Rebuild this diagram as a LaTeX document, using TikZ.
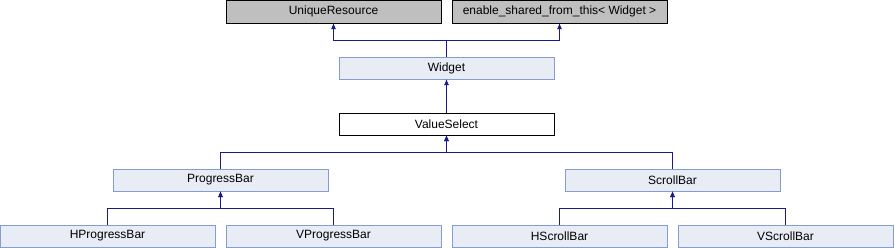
\documentclass[tikz,border=0pt]{standalone}
\usepackage{fontspec}
\setmainfont{Liberation Sans}
\usetikzlibrary{positioning, arrows.meta}
\definecolor{linkblue}{RGB}{25,25,140}
\definecolor{basegray}{RGB}{191,191,191}
\definecolor{classfill}{RGB}{232,236,245}
\definecolor{classdraw}{RGB}{132,156,206}

\begin{document}
\begin{tikzpicture}[
            x=1pt, y=-1pt,
            cls/.style={rectangle, draw, minimum width=215pt, minimum height=22pt, inner sep=0pt, font=\fontsize{12}{14}\selectfont},
            extbase/.style={cls, fill=basegray, draw=black, minimum height=23pt},
            derived/.style={cls, fill=classfill, draw=classdraw},
            current/.style={cls, fill=white, draw=black},
            inherit/.style={-{Latex[length=6pt, width=5pt]}, linkblue, semithick}
        ]
            \useasboundingbox (0,0) rectangle (894,248);

            % --- Node Placement ---
            \node[extbase] (unique) at (333.5,11.5) {UniqueResource};
            \node[extbase] (sharedthis) at (559.5,11.5) {enable\_shared\_from\_this\textless{} Widget \textgreater};
            \node[derived] (widget) at (446.5,68) {Widget};
            \node[current] (valsel) at (446.5,124) {ValueSelect};
            \node[derived] (progbar) at (220.5,180) {ProgressBar};
            \node[derived] (scrollbar) at (672.5,180) {ScrollBar};
            \node[derived] (hprogbar) at (107.5,236) {HProgressBar};
            \node[derived] (vprogbar) at (333.5,236) {VProgressBar};
            \node[derived] (hscroll) at (559.5,236) {HScrollBar};
            \node[derived] (vscroll) at (785.5,236) {VScrollBar};

            % --- Inheritance Links ---
            \coordinate (widgetjoin) at (446.5,40);
            \draw[inherit] (widget.north) -- (widgetjoin) -| (unique.south);
            \draw[inherit] (widgetjoin) -| (sharedthis.south);
            \draw[inherit] (valsel.north) -- (widget.south);

            \coordinate (valjoin) at (446.5,152);
            \draw[inherit] (progbar.north) |- (valjoin) -- (valsel.south);
            \draw[inherit] (scrollbar.north) |- (valjoin) -- (valsel.south);

            \coordinate (progjoin) at (220.5,208);
            \draw[inherit] (hprogbar.north) |- (progjoin) -- (progbar.south);
            \draw[inherit] (vprogbar.north) |- (progjoin) -- (progbar.south);

            \coordinate (scrolljoin) at (672.5,208);
            \draw[inherit] (hscroll.north) |- (scrolljoin) -- (scrollbar.south);
            \draw[inherit] (vscroll.north) |- (scrolljoin) -- (scrollbar.south);
        \end{tikzpicture}
\end{document}
